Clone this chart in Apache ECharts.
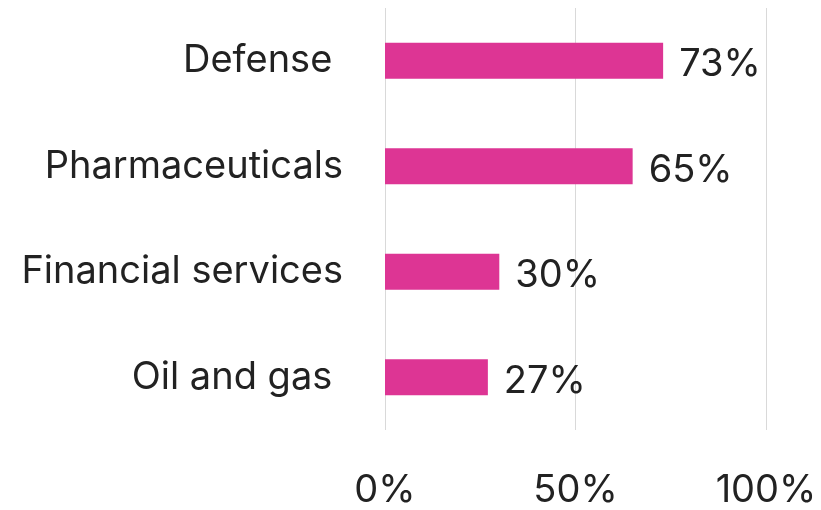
<!DOCTYPE html>
<html>
<head>
<meta charset="utf-8">
<script src="https://cdn.jsdelivr.net/npm/echarts@6/dist/echarts.min.js"></script>
<style>html,body{margin:0;padding:0;background:#fff}#c{width:821px;height:510px}</style>
</head>
<body>
<div id="c"></div>
<script>
const categories = ["Defense ", "Pharmaceuticals", "Financial services", "Oil and gas "];
const values = [73, 65, 30, 27];
const xTicks = [0, 50, 100];

const chart = echarts.init(document.getElementById('c'), null, {renderer: 'canvas'});
chart.setOption({
  animation: false,
  grid: {left: 385, right: 55, top: 8, bottom: 78, containLabel: false},
  xAxis: {
    type: 'value', min: xTicks[0], max: xTicks[xTicks.length - 1], interval: 50,
    axisLine: {show: false}, axisTick: {show: false},
    splitLine: {lineStyle: {color: '#d9d9d9', width: 1}},
    axisLabel: {formatter: v => v + '%', color: '#222', fontSize: 38, fontFamily: 'Inter', margin: 42}
  },
  yAxis: {
    type: 'category', data: categories, inverse: true,
    axisLine: {show: false}, axisTick: {show: false},
    axisLabel: {color: '#222', fontSize: 38, fontFamily: 'Inter', margin: 42, padding: [6, 0, 0, 0]}
  },
  series: [{
    type: 'bar', data: values, barWidth: 36,
    itemStyle: {color: '#DD3594'},
    label: {show: true, position: 'right', distance: 16, formatter: p => p.value + '%',
      color: '#222', fontSize: 38, fontFamily: 'Inter', offset: [0, 4]}
  }]
});
</script>
</body>
</html>
